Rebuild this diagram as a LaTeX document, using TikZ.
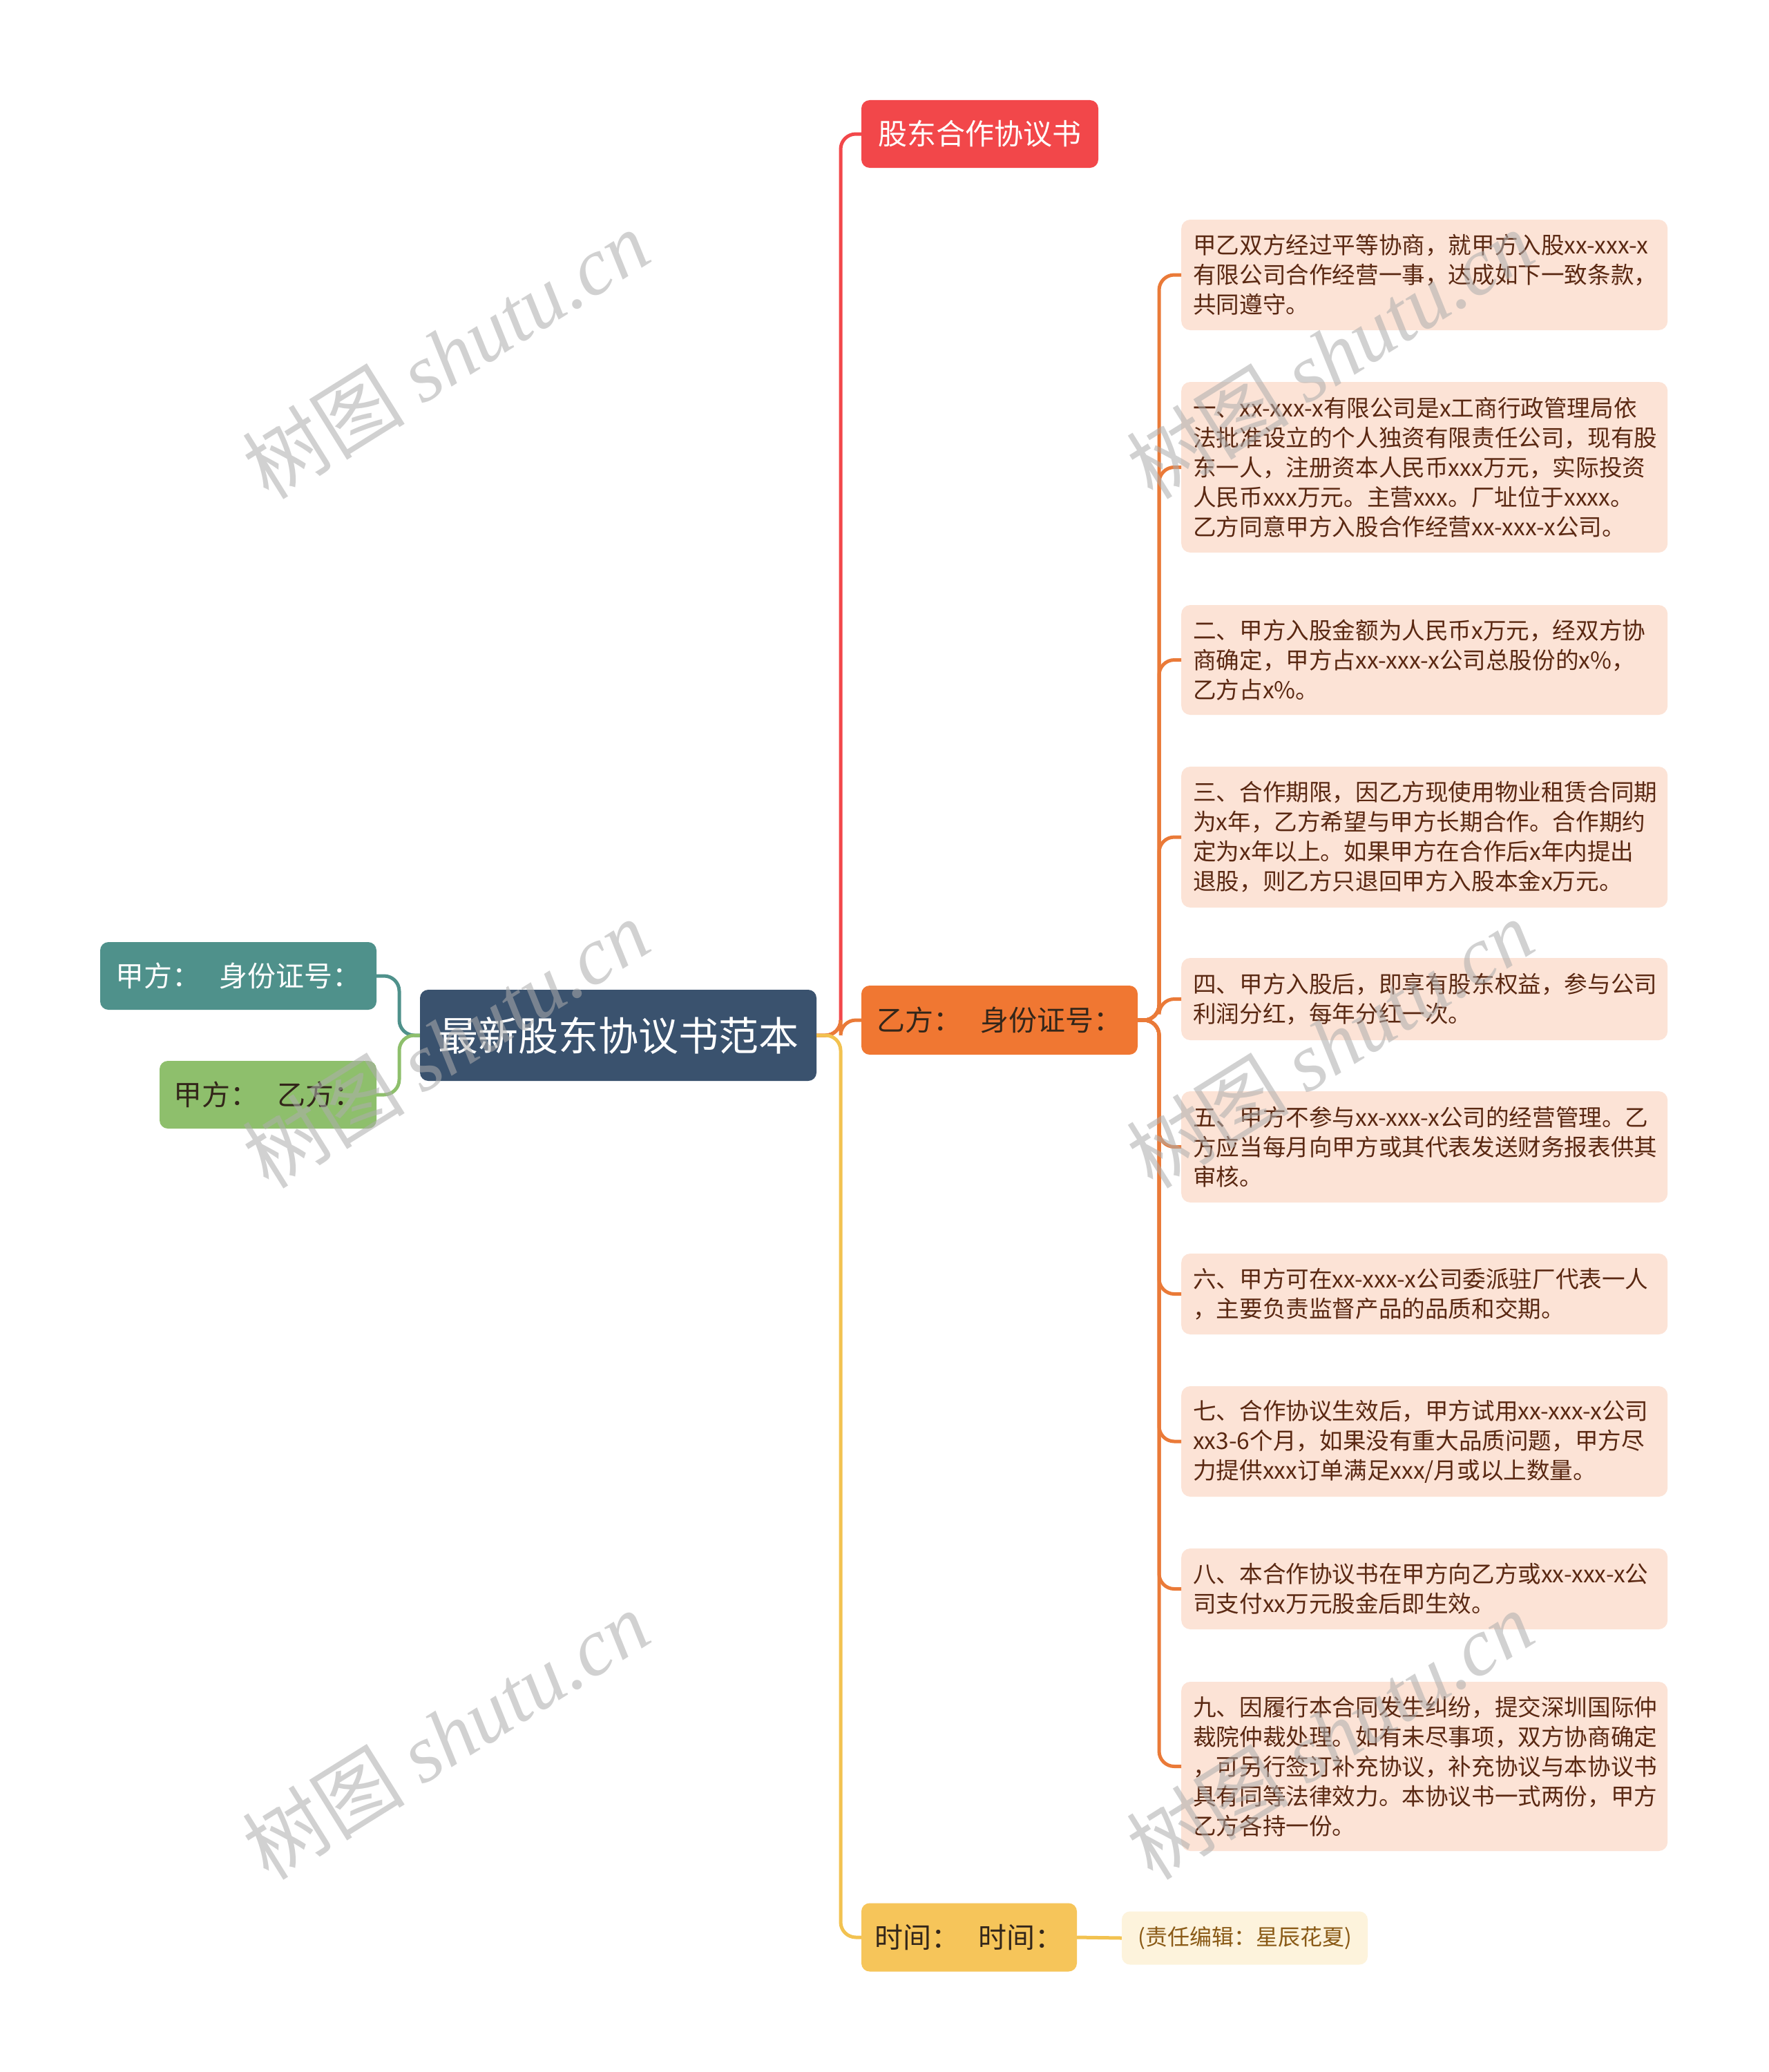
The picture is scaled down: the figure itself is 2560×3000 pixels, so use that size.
\documentclass[tikz,border=0pt]{standalone}
\usepackage{fontspec}
\setmainfont{Noto Sans CJK SC}
\newfontfamily\wmfont{Liberation Serif}
\newfontfamily\wmcjk{Noto Sans CJK SC}
\definecolor{rootc}{HTML}{3A526E}
\definecolor{redc}{HTML}{F2474A}
\definecolor{orangec}{HTML}{F07732}
\definecolor{orangel}{HTML}{EA7A38}
\definecolor{yellowc}{HTML}{F6C55A}
\definecolor{yellowl}{HTML}{F2C250}
\definecolor{tealc}{HTML}{4F918B}
\definecolor{greenc}{HTML}{8EBF6C}
\definecolor{leafc}{HTML}{FCE3D6}
\definecolor{leaftext}{HTML}{5A2812}
\definecolor{edc}{HTML}{FDF3DC}
\definecolor{edtext}{HTML}{8A5A16}
\definecolor{darktext}{HTML}{33261A}
\tikzset{
  mainbox/.style={rounded corners=12pt, inner sep=0pt, align=center},
  leafbox/.style={fill=leafc, rounded corners=13pt, text=leaftext, anchor=west,
    font=\fontsize{33.6}{43}\selectfont, align=left, text width=670pt, inner xsep=17pt, inner ysep=0pt},
  conn/.style={line width=5pt, rounded corners=22pt},
  wm/.style={rotate=32, text=black!32, text opacity=0.55, font=\fontsize{118}{124}\selectfont}
}
\newcommand{\cgap}{\hspace{28pt}}
\begin{document}
\begin{tikzpicture}[x=1pt,y=-1pt]
\useasboundingbox[fill=white] (0,0) rectangle (2560,3000);

% main nodes
\node[mainbox, fill=rootc, text=white, minimum width=574pt, minimum height=132pt, font=\fontsize{58}{62}\selectfont] (root) at (895,1499) {最新股东协议书范本};
\node[mainbox, fill=redc, text=white, minimum width=343pt, minimum height=98pt, font=\fontsize{42}{46}\selectfont] (gd) at (1418.5,194) {股东合作协议书};
\node[mainbox, fill=orangec, text=darktext, minimum width=400pt, minimum height=100pt, font=\fontsize{41}{46}\selectfont] (yi) at (1447,1477) {乙方：\cgap 身份证号：};
\node[mainbox, fill=yellowc, text=darktext, minimum width=312pt, minimum height=99pt, font=\fontsize{41}{46}\selectfont] (sj) at (1403,2805) {时间：\cgap 时间：};
\node[mainbox, fill=edc, text=edtext, minimum width=356pt, minimum height=77pt, font=\fontsize{32}{36}\selectfont] (ed) at (1802,2806) {(责任编辑：星辰花夏)};
\node[mainbox, fill=tealc, text=white, minimum width=400pt, minimum height=98pt, font=\fontsize{41}{46}\selectfont] (ja) at (345,1413) {甲方：\cgap 身份证号：};
\node[mainbox, fill=greenc, text=darktext, minimum width=314pt, minimum height=98pt, font=\fontsize{41}{46}\selectfont] (jy) at (388,1585) {甲方：\cgap 乙方：};

% leaves
\node[leafbox, minimum height=160pt] (l0) at (1710,398) {甲乙双方经过平等协商，就甲方入股xx-xxx-x\\有限公司合作经营一事，达成如下一致条款，\\共同遵守。};
\node[leafbox, minimum height=247pt] (l1) at (1710,676.5) {一、xx-xxx-x有限公司是x工商行政管理局依\\法批准设立的个人独资有限责任公司，现有股\\东一人，注册资本人民币xxx万元，实际投资\\人民币xxx万元。主营xxx。厂址位于xxxx。\\乙方同意甲方入股合作经营xx-xxx-x公司。};
\node[leafbox, minimum height=159pt] (l2) at (1710,955.5) {二、甲方入股金额为人民币x万元，经双方协\\商确定，甲方占xx-xxx-x公司总股份的x\%，\\乙方占x\%。};
\node[leafbox, minimum height=204pt] (l3) at (1710,1212) {三、合作期限，因乙方现使用物业租赁合同期\\为x年，乙方希望与甲方长期合作。合作期约\\定为x年以上。如果甲方在合作后x年内提出\\退股，则乙方只退回甲方入股本金x万元。};
\node[leafbox, minimum height=119pt] (l4) at (1710,1446.5) {四、甲方入股后，即享有股东权益，参与公司\\利润分红，每年分红一次。};
\node[leafbox, minimum height=161pt] (l5) at (1710,1660.5) {五、甲方不参与xx-xxx-x公司的经营管理。乙\\方应当每月向甲方或其代表发送财务报表供其\\审核。};
\node[leafbox, minimum height=117pt] (l6) at (1710,1873.5) {六、甲方可在xx-xxx-x公司委派驻厂代表一人\\，主要负责监督产品的品质和交期。};
\node[leafbox, minimum height=160pt] (l7) at (1710,2087) {七、合作协议生效后，甲方试用xx-xxx-x公司\\xx3-6个月，如果没有重大品质问题，甲方尽\\力提供xxx订单满足xxx/月或以上数量。};
\node[leafbox, minimum height=117pt] (l8) at (1710,2300.5) {八、本合作协议书在甲方向乙方或xx-xxx-x公\\司支付xx万元股金后即生效。};
\node[leafbox, minimum height=245pt] (l9) at (1710,2557.5) {九、因履行本合同发生纠纷，提交深圳国际仲\\裁院仲裁处理。如有未尽事项，双方协商确定\\，可另行签订补充协议，补充协议与本协议书\\具有同等法律效力。本协议书一式两份，甲方\\乙方各持一份。};

% connectors from root (right)
\coordinate (rj) at (1217,1499);
\draw[conn, redc] (root.east) -- (rj) -- (1217,194) -- (gd.west);
\draw[conn, orangel] (root.east) -- (rj) -- (1217,1477) -- (yi.west);
\draw[conn, yellowl] (root.east) -- (rj) -- (1217,2805) -- (sj.west);
\draw[conn, yellowl] (sj.east) -- (ed.west);
% connectors from root (left)
\coordinate (lj) at (578,1499);
\draw[conn, tealc] (root.west) -- (lj) -- (578,1413) -- (ja.east);
\draw[conn, greenc] (root.west) -- (lj) -- (578,1585) -- (jy.east);
% leaves
\coordinate (yj) at (1678,1477);
\foreach \n/\yy in {l0/398,l1/676.5,l2/955.5,l3/1212,l4/1446.5,l5/1660.5,l6/1873.5,l7/2087,l8/2300.5,l9/2557.5}{
  \draw[conn, orangel] (yi.east) -- (yj) -- (1678,\yy) -- (\n.west);
}

% watermarks
\node[wm] (w1) at (645,513) {\wmcjk 树图 {\wmfont\itshape shutu.cn}};
\node[wm] (w2) at (645,1511) {\wmcjk 树图 {\wmfont\itshape shutu.cn}};
\node[wm] (w3) at (645,2512) {\wmcjk 树图 {\wmfont\itshape shutu.cn}};
\node[wm] (w4) at (1925,513) {\wmcjk 树图 {\wmfont\itshape shutu.cn}};
\node[wm] (w5) at (1925,1511) {\wmcjk 树图 {\wmfont\itshape shutu.cn}};
\node[wm] (w6) at (1925,2512) {\wmcjk 树图 {\wmfont\itshape shutu.cn}};
\end{tikzpicture}
\end{document}
